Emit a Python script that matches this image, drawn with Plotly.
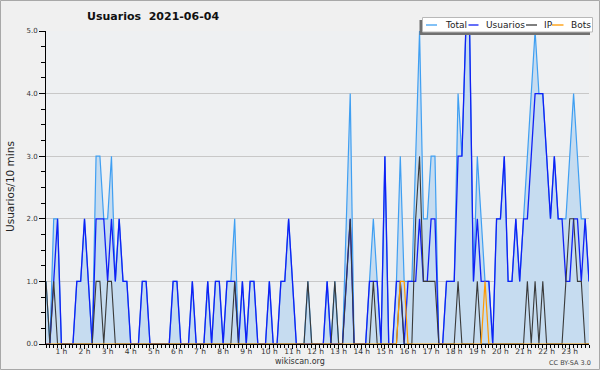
import plotly.graph_objects as go

# ---- data (values per 10-minute slot, first slot 00:20, last 23:50) ----
start_minute = 20
step_minutes = 10

total = [1,0,2,2,0,0,0,0,1,1,2,1,0,3,3,2,2,3,1,2,1,1,0,
         0,0,1,1,0,0,0,0,0,0,1,1,0,0,0,1,0,0,0,1,0,1,1,0,
         1,1,2,0,1,0,1,1,0,0,0,1,0,0,1,1,2,1,0,0,0,1,0,
         0,0,0,1,0,1,0,0,2,4,0,0,0,0,1,2,1,0,3,0,0,1,3,1,
         1,1,3,5,2,2,3,3,0,0,1,1,1,4,3,5,5,1,3,2,1,1,0,
         2,2,3,1,1,2,1,2,3,4,5,4,4,3,2,3,2,2,2,3,4,3,2,2,1]
usuarios = [0,0,1,2,0,0,0,0,1,1,2,1,0,2,2,2,1,2,1,2,1,1,0,
            0,0,1,1,0,0,0,0,0,0,1,1,0,0,0,1,0,0,0,1,0,1,1,0,
            1,1,1,0,1,0,1,1,0,0,0,1,0,0,1,1,2,1,0,0,0,0,0,
            0,0,0,1,0,0,0,0,1,2,0,0,0,0,1,1,1,0,3,0,0,1,1,0,
            1,1,1,2,1,1,2,2,0,0,1,1,1,3,3,5,5,1,2,1,1,1,0,
            2,2,3,1,1,2,1,2,2,3,4,4,4,3,2,3,2,2,1,1,2,2,1,2,1]
ip = [1,0,1,0,0,0,0,0,0,0,0,0,0,1,1,0,1,1,0,0,0,0,0,
      0,0,0,0,0,0,0,0,0,0,0,0,0,0,0,0,0,0,0,0,0,0,0,0,
      0,0,1,0,0,0,0,0,0,0,0,0,0,0,0,0,0,0,0,0,0,1,0,
      0,0,0,0,0,1,0,0,1,2,0,0,0,0,0,1,0,0,0,0,0,0,1,0,
      0,0,2,3,1,1,1,1,0,0,0,0,0,1,0,0,0,0,1,0,0,0,0,
      0,0,0,0,0,0,0,0,1,0,1,0,1,0,0,0,0,0,1,2,2,1,1,0,0]
bots = [0]*91 + [0,1,1,0] + [0]*18 + [0,1,0] + [0]*26

minutes = [start_minute + step_minutes*k for k in range(len(total))]

hour_vals = [60*h for h in range(1, 24)]
hour_text = [f"{h} h" for h in range(1, 24)]

# ---- geometry helpers ----
W, H = 600, 370
ML, MR, MT, MB = 46, 11, 31, 26
PW, PH = W - ML - MR, H - MT - MB

def px(x):
    return (x - ML) / PW

def py(y):
    return (H - MB - y) / PH

C_TOTAL = "#3f9ff2"
C_FILL = "#c6dcf0"
C_USER = "#1020f5"
C_IP = "#3a3a3a"
C_BOTS = "#ff9a00"
FONT = "DejaVu Sans"

fig = go.Figure()
fig.add_trace(go.Scatter(x=minutes, y=total, mode="lines", name="Total",
                         line=dict(color=C_TOTAL, width=1.2),
                         fill="tozeroy", fillcolor=C_FILL))
fig.add_trace(go.Scatter(x=minutes, y=usuarios, mode="lines", name="Usuarios",
                         line=dict(color=C_USER, width=1.3)))
fig.add_trace(go.Scatter(x=minutes, y=ip, mode="lines", name="IP",
                         line=dict(color=C_IP, width=1.1)))
fig.add_trace(go.Scatter(x=minutes, y=bots, mode="lines", name="Bots",
                         line=dict(color=C_BOTS, width=1.2)))

fig.update_layout(
    width=W, height=H,
    margin=dict(l=ML, r=MR, t=MT, b=MB, pad=0),
    paper_bgcolor="#f0f0f0",
    plot_bgcolor="#eef0f2",
    showlegend=False,
    font=dict(family=FONT, color="#222"),
    xaxis=dict(range=[minutes[0], minutes[-1]], tickmode="array",
               tickvals=hour_vals, ticktext=hour_text,
               ticks="outside", ticklen=4, tickwidth=1, tickcolor="black",
               ticklabelstandoff=-4,
               showline=True, linecolor="black", linewidth=1,
               showgrid=False, zeroline=False,
               tickfont=dict(family=FONT, size=7.5, color="#333"),
               minor=dict(tickmode="linear", tick0=0, dtick=10, ticklen=3,
                          tickwidth=1, tickcolor="black", ticks="outside",
                          showgrid=False)),
    yaxis=dict(range=[0, 5], dtick=1, tick0=0, tickformat=".1f",
               ticks="outside", ticklen=6, tickwidth=1, tickcolor="black",
               showline=True, linecolor="black", linewidth=1,
               showgrid=True, gridcolor="#c8c8c8", gridwidth=1,
               zeroline=False,
               tickfont=dict(family=FONT, size=7, color="#333"),
               minor=dict(dtick=0.25, ticklen=4, tickwidth=1,
                          tickcolor="black", ticks="outside", showgrid=False)),
)

ann = []
ann.append(dict(text="<b>Usuarios\u00a0\u00a02021-06-04</b>", x=px(85), y=py(16.7),
                xanchor="left", yanchor="middle",
                font=dict(family=FONT, size=11, color="#111")))
ann.append(dict(text="Usuarios/10 mins", x=px(10), y=py(187), textangle=-90,
                xanchor="center", yanchor="middle",
                font=dict(family=FONT, size=10.5, color="#222")))
ann.append(dict(text="wikiscan.org", x=px(300), y=py(361.5),
                xanchor="center", yanchor="middle",
                font=dict(family=FONT, size=8, color="#333")))
ann.append(dict(text="CC BY-SA 3.0", x=px(570), y=py(363),
                xanchor="center", yanchor="middle",
                font=dict(family=FONT, size=6.5, color="#444")))

shapes = []
# legend shadow and box
shapes.append(dict(type="rect", xref="paper", yref="paper",
                   x0=px(419.5), x1=px(590), y0=py(35), y1=py(20),
                   fillcolor="#707070", line=dict(width=0)))
shapes.append(dict(type="rect", xref="paper", yref="paper",
                   x0=px(422.5), x1=px(592.5), y0=py(32), y1=py(17.5),
                   fillcolor="#ffffff", line=dict(color="#b8b8b8", width=1)))
legend_items = [("Total", C_TOTAL, 426, 437, 442.5),
                ("Usuarios", C_USER, 468.5, 478.5, 483.5),
                ("IP", C_IP, 526, 537, 542),
                ("Bots", C_BOTS, 552, 563.5, 568.5)]
for name, col, lx0, lx1, tx in legend_items:
    shapes.append(dict(type="line", xref="paper", yref="paper",
                       x0=px(lx0), x1=px(lx1), y0=py(25), y1=py(25),
                       line=dict(color=col, width=1.3)))
    ann.append(dict(text=name, x=px(tx), y=py(25), xanchor="left",
                    yanchor="middle", font=dict(family=FONT, size=9, color="#222")))
# outer border
shapes.append(dict(type="rect", xref="paper", yref="paper",
                   x0=px(0.5), x1=px(599.5), y0=py(369.5), y1=py(0.5),
                   line=dict(color="#a8a8a8", width=1)))

for a in ann:
    a.update(xref="paper", yref="paper", showarrow=False)

fig.update_layout(annotations=ann, shapes=shapes)
fig.write_html("out.html")
